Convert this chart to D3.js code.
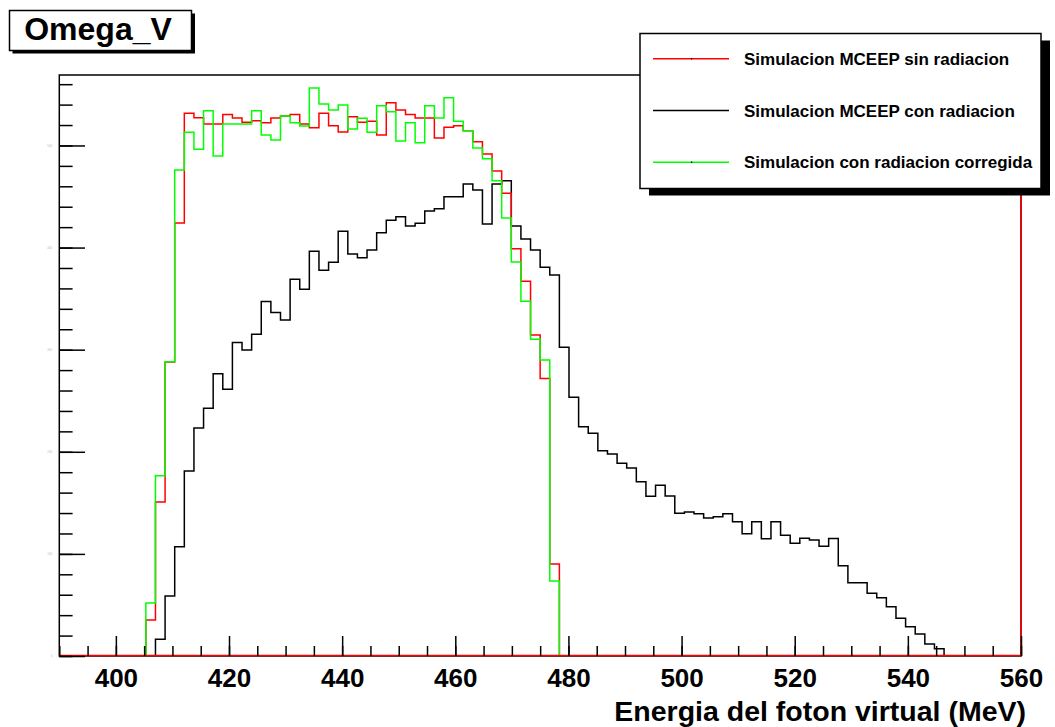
<!DOCTYPE html>
<html>
<head>
<meta charset="utf-8">
<script src="https://cdn.jsdelivr.net/npm/d3@7"></script>
<style>
  body { margin: 0; background: #fff; }
  svg { display: block; font-family: "Liberation Sans", Arial, sans-serif; }
</style>
</head>
<body>
<script>
// histogram: 100 bins of 1.7 MeV from 390 to 560
const binLow = 390
const binWidth = 1.7
const nBins = 100

// Simulacion MCEEP sin radiacion (bins 9..51)
const redStart = 9
const redCounts = [35.3, 150.8, 287.9, 424.1, 531.5, 527.2, 521.0, 521.0, 530.2, 526.9,
  522.7, 524.3, 522.3, 526.9, 528.9, 530.2, 521.0, 517.4, 531.5, 519.4,
  513.2, 528.2, 522.7, 523.7, 510.3, 541.9, 534.8, 530.2, 526.9, 526.9,
  507.3, 517.8, 519.4, 514.5, 503.7, 491.7, 475.0, 453.2, 398.9, 367.0,
  314.4, 271.8, 90.1]

// Simulacion MCEEP con radiacion (bins 10..91)
const blackStart = 10
const blackCounts = [16.4, 58.8, 107.0, 181.2, 223.3, 242.6, 276.5, 261.2, 307.0, 299.7,
  315.1, 347.2, 336.4, 329.1, 368.9, 359.1, 396.4, 377.8, 385.7, 416.1,
  393.7, 390.1, 397.6, 414.6, 426.7, 430.2, 421.1, 423.8, 435.8, 438.1,
  449.8, 449.8, 462.3, 456.4, 423.1, 462.3, 465.5, 421.1, 408.4, 397.6,
  380.7, 373.2, 302.3, 253.4, 224.6, 218.1, 201.1, 197.8, 188.7, 184.1,
  170.6, 156.4, 167.2, 156.7, 139.8, 141.0, 139.4, 135.2, 136.4, 139.4,
  131.5, 119.8, 131.5, 114.9, 131.5, 118.2, 110.4, 115.3, 113.6, 107.4,
  115.0, 88.4, 71.8, 71.8, 61.4, 57.1, 48.3, 36.9, 28.7, 21.5,
  11.8, 7.1]

// Simulacion con radiacion corregida (bins 9..51)
const greenStart = 9
const greenCounts = [51.9, 176.6, 288.2, 476.0, 512.9, 496.3, 534.1, 489.7, 521.0, 521.0,
  521.0, 534.1, 510.3, 505.4, 528.9, 522.3, 519.1, 556.3, 540.6, 534.8,
  539.6, 516.1, 526.6, 512.9, 539.0, 533.1, 504.4, 522.3, 502.7, 539.0,
  526.9, 546.8, 523.7, 514.5, 497.5, 487.1, 465.5, 429.0, 385.9, 347.4,
  310.2, 289.9, 73.5]

const xMajor = [400, 420, 440, 460, 480, 500, 520, 540, 560]
const yMajor = [0, 100, 200, 300, 400, 500]
const legendLabels = ["Simulacion MCEEP sin radiacion", "Simulacion MCEEP con radiacion", "Simulacion con radiacion corregida"]
const legendColors = ["#ff0000", "#000000", "#00ff00"]

const width = 1055, height = 727
const frame = {left: 59.3, right: 1021, top: 75, bottom: 656}

const x = d3.scaleLinear().domain([390, 560]).range([frame.left, frame.right])
const y = d3.scaleLinear().domain([0, 569]).range([frame.bottom, frame.top])

const svg = d3.select("body").append("svg")
  .attr("width", width)
  .attr("height", height)

svg.append("defs").append("clipPath").attr("id", "clip")
  .append("rect")
  .attr("x", frame.left).attr("y", frame.top)
  .attr("width", frame.right - frame.left).attr("height", frame.bottom - frame.top)

// full array of bins, zero outside the filled range
function fullBins(start, counts) {
  return d3.range(nBins).map(i => {
    const k = i - start
    return {x0: binLow + i * binWidth, x1: binLow + (i + 1) * binWidth,
            v: (k >= 0 && k < counts.length) ? counts[k] : 0}
  })
}

function stepPoints(bins) {
  const pts = [[binLow, 0]]
  bins.forEach(b => { pts.push([b.x0, b.v]); pts.push([b.x1, b.v]) })
  pts.push([binLow + nBins * binWidth, 0])
  return pts
}

const line = d3.line().x(d => x(d[0])).y(d => y(d[1]))

const plot = svg.append("g").attr("clip-path", "url(#clip)")

const series = [
  {start: blackStart, counts: blackCounts, color: "#000000"},
  {start: redStart, counts: redCounts, color: "#ff0000"},
  {start: greenStart, counts: greenCounts, color: "#00ff00"}
]

series.forEach(s => {
  plot.append("path")
    .datum(stepPoints(fullBins(s.start, s.counts)))
    .attr("fill", "none")
    .attr("stroke", s.color)
    .attr("stroke-width", 1.5)
    .attr("d", line)
})

// frame
svg.append("rect")
  .attr("x", frame.left).attr("y", frame.top)
  .attr("width", frame.right - frame.left).attr("height", frame.bottom - frame.top)
  .attr("fill", "none").attr("stroke", "#000").attr("stroke-width", 1.5)

// red baseline and right edge
svg.append("path")
  .attr("d", `M${x(390)},${y(0) - 0.5}H${x(560)}V${frame.top}`)
  .attr("fill", "none").attr("stroke", "#ff0000").attr("stroke-width", 1.6)

// x axis: minor ticks every 5, major every 20, pointing up
svg.append("g")
  .attr("transform", `translate(0,${frame.bottom})`)
  .call(d3.axisBottom(x).tickValues(d3.range(390, 561, 5)).tickSize(-10).tickFormat(""))
  .call(g => g.select(".domain").remove())
  .call(g => g.selectAll("line").attr("stroke-width", 1.5))

svg.append("g")
  .attr("transform", `translate(0,${frame.bottom})`)
  .call(d3.axisBottom(x).tickValues(xMajor).tickSize(-20).tickPadding(13))
  .call(g => g.select(".domain").remove())
  .call(g => g.selectAll("line").attr("stroke-width", 1.5))
  .call(g => g.selectAll("text")
    .attr("font-family", "Liberation Sans, Arial, sans-serif")
    .attr("font-weight", "bold")
    .attr("font-size", 26)
    .attr("fill", "#000"))

// y axis: minor every 20, major every 100, labels practically invisible
svg.append("g")
  .attr("transform", `translate(${frame.left},0)`)
  .call(d3.axisLeft(y).tickValues(d3.range(0, 569, 20)).tickSize(-13.3).tickFormat(""))
  .call(g => g.select(".domain").remove())
  .call(g => g.selectAll("line").attr("stroke-width", 1.5))

svg.append("g")
  .attr("transform", `translate(${frame.left},0)`)
  .call(d3.axisLeft(y).tickValues(yMajor).tickSize(-25.7).tickPadding(7))
  .call(g => g.select(".domain").remove())
  .call(g => g.selectAll("line").attr("stroke-width", 1.5))
  .call(g => g.selectAll("text").attr("font-size", 3).attr("fill", "#bbb"))

// axis title
svg.append("text")
  .attr("x", 1026).attr("y", 721)
  .attr("text-anchor", "end")
  .attr("font-weight", "bold")
  .attr("font-size", 28.5)
  .text("Energia del foton virtual (MeV)")

// title box
svg.append("rect").attr("x", 12.5).attr("y", 13.5).attr("width", 182.5).attr("height", 40).attr("fill", "#000")
svg.append("rect").attr("x", 9.5).attr("y", 10.5).attr("width", 182).attr("height", 40)
  .attr("fill", "#fff").attr("stroke", "#000").attr("stroke-width", 1.5)
svg.append("text")
  .attr("x", 98).attr("y", 40)
  .attr("text-anchor", "middle")
  .attr("font-weight", "bold")
  .attr("font-size", 32)
  .text("Omega_V")

// legend
const lg = {x: 640, y: 33.5, w: 401, h: 155}
svg.append("rect").attr("x", lg.x + 9).attr("y", lg.y + 7).attr("width", lg.w).attr("height", lg.h).attr("fill", "#000")
svg.append("rect").attr("x", lg.x).attr("y", lg.y).attr("width", lg.w).attr("height", lg.h)
  .attr("fill", "#fff").attr("stroke", "#000").attr("stroke-width", 1.5)

const entry = svg.append("g").selectAll("g")
  .data(legendLabels)
  .join("g")
    .attr("transform", (d, i) => `translate(0,${58.7 + i * 51.8})`)

entry.append("line")
  .attr("x1", 653).attr("x2", 729)
  .attr("stroke", (d, i) => legendColors[i])
  .attr("stroke-width", 1.5)

entry.append("rect")
  .attr("x", 691).attr("y", -0.75).attr("width", 1.2).attr("height", 1.5)
  .attr("fill", (d, i) => i === 1 ? "none" : "#000")

entry.append("text")
  .attr("x", 744).attr("y", 6)
  .attr("font-weight", "bold")
  .attr("font-size", 17)
  .text(d => d)
</script>
</body>
</html>
